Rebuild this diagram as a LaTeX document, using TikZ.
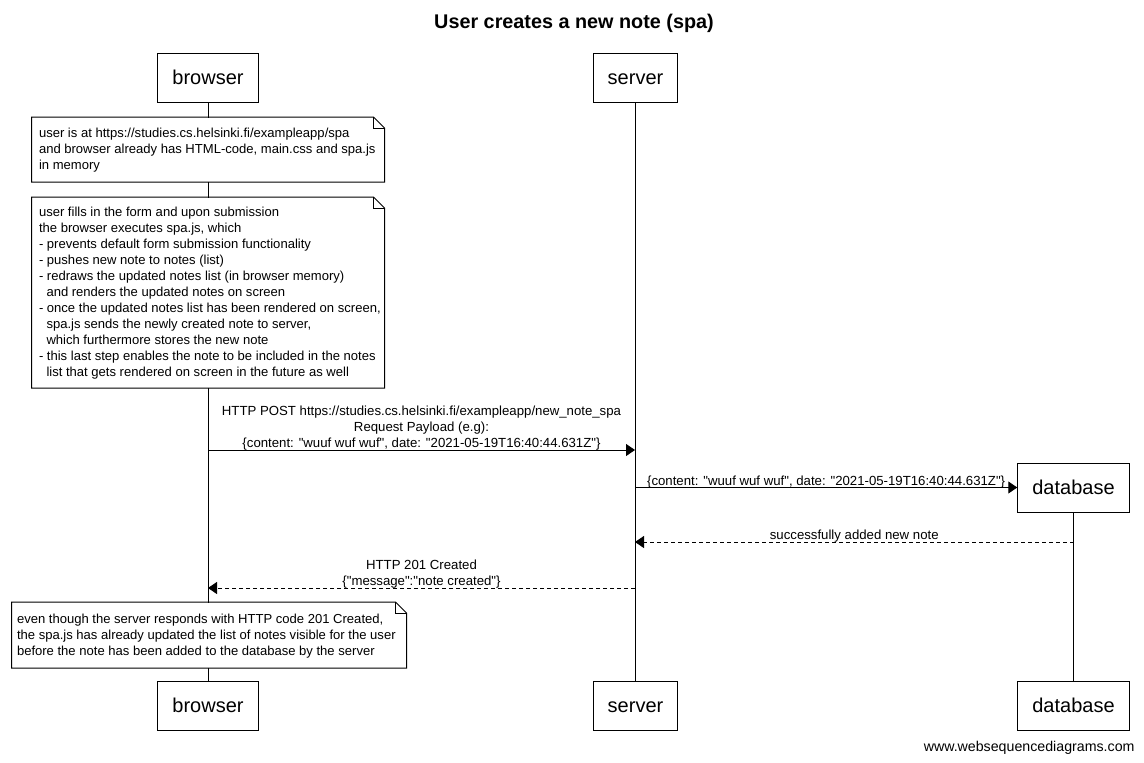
\documentclass[tikz,border=0pt]{standalone}
\usepackage{fontspec}
\setmainfont{Liberation Sans}[Ligatures=TeXOff]
\usetikzlibrary{arrows.meta,calc}
\begin{document}
\begin{tikzpicture}[x=1pt,y=-1pt,line width=1pt,
  actor/.style={draw,fill=white,minimum height=49pt,inner xsep=14.6pt,inner ysep=0pt,
    text height=14.4pt,text depth=0pt,font=\fontsize{20}{24}\selectfont},
  noteframe/.style={fill=white,inner sep=0pt,anchor=north west},
  notetext/.style={anchor=west,align=left,inner sep=0pt,yshift=-0.8pt,font=\fontsize{13.05}{16}\selectfont},
  msg/.style={-{Triangle[length=9pt,width=12pt]}},
  reply/.style={msg,dash pattern=on 4pt off 3pt},
  lbl/.style={midway,anchor=south,align=center,inner sep=0pt,yshift=-1.2pt,
    font=\fontsize{13.2}{16}\selectfont}]

% canvas
\useasboundingbox[fill=white] (0,0) rectangle (1144,763);

% title
\node[font=\bfseries\fontsize{19.8}{24}\selectfont] (title) at (574,23) {User creates a new note (spa)};

% participants
\node[actor] (bT) at (208,77.5) {browser};
\node[actor] (sT) at (635.5,77.5) {server};
\node[actor] (dT) at (1073.5,487.5) {database};
\node[actor] (bB) at (208,705.5) {browser};
\node[actor] (sB) at (635.5,705.5) {server};
\node[actor] (dB) at (1073.5,705.5) {database};

% lifelines
\draw (bT.south) -- (bB.north);
\draw ([xshift=-0.5pt]sT.south) -- ([xshift=-0.5pt]sB.north);
\draw (dT.south) -- (dB.north);

% note helper: frame with folded corner
\newcommand{\notefold}[1]{%
  \draw (#1.north west) -- ([xshift=-11pt]#1.north east) -- ([yshift=-11pt]#1.north east)
        -- (#1.south east) -- (#1.south west) -- cycle;
  \draw[line width=0.8pt] ([xshift=-11pt]#1.north east) -- ([xshift=-11pt,yshift=-11pt]#1.north east)
        -- ([yshift=-11pt]#1.north east);}

% note 1
\node[noteframe,minimum width=352pt,minimum height=64pt] (n1) at (31.5,117) {};
\notefold{n1}
\node[notetext] (t1) at ([xshift=7pt]n1.west) {user is at https://studies.cs.helsinki.fi/exampleapp/spa\\
and browser already has HTML-code, main.css and spa.js\\
in memory};

% note 2
\node[noteframe,minimum width=352pt,minimum height=190pt] (n2) at (31.5,197) {};
\notefold{n2}
\node[notetext] (t2) at ([xshift=7pt]n2.west) {user fills in the form and upon submission\\
the browser executes spa.js, which\\
- prevents default form submission functionality\\
- pushes new note to notes (list)\\
- redraws the updated notes list (in browser memory)\\
\hspace*{7.5pt}and renders the updated notes on screen\\
- once the updated notes list has been rendered on screen,\\
\hspace*{7.5pt}spa.js sends the newly created note to server,\\
\hspace*{7.5pt}which furthermore stores the new note\\
- this last step enables the note to be included in the notes\\
\hspace*{7.5pt}list that gets rendered on screen in the future as well};

% message end points on the lifelines
\coordinate (m1a) at (208,450);
\coordinate (m1b) at (635,450);
\coordinate (m2a) at (635,487.5);
\coordinate (m3a) at (1073.5,542);
\coordinate (m3b) at (635,542);
\coordinate (m4a) at (635,588);
\coordinate (m4b) at (208,588);

% messages
\draw[msg] (m1a) -- (m1b) node[lbl] {HTTP POST https://studies.cs.helsinki.fi/exampleapp/new\_note\_spa\\
Request Payload (e.g):\\
\{content: "wuuf wuf wuf", date: "2021-05-19T16:40:44.631Z"\}};
\draw[msg] (m2a) -- (dT.west) node[lbl] {\{content: "wuuf wuf wuf", date: "2021-05-19T16:40:44.631Z"\}};
\draw[reply] (m3a) -- (m3b) node[lbl] {successfully added new note};
\draw[reply] (m4a) -- (m4b) node[lbl] {HTTP 201 Created\\
\{"message":"note created"\}};

% note 3
\node[noteframe,minimum width=394pt,minimum height=65pt] (n3) at (11.5,602) {};
\notefold{n3}
\node[notetext] (t3) at ([xshift=5pt]n3.west) {even though the server responds with HTTP code 201 Created,\\
the spa.js has already updated the list of notes visible for the user\\
before the note has been added to the database by the server};

% footer
\node[anchor=east,inner sep=0pt,font=\fontsize{14.2}{16}\selectfont] (footer) at (1135,748) {www.websequencediagrams.com};
\end{tikzpicture}
\end{document}
